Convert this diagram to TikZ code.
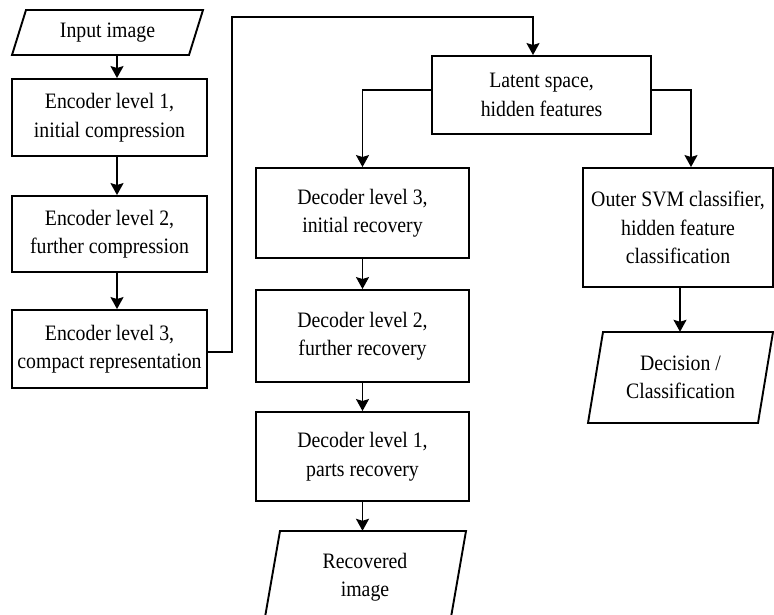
\documentclass[tikz,border=0pt]{standalone}
\usepackage{fontspec}
\setmainfont[FakeStretch=0.9]{Liberation Serif}
\usetikzlibrary{arrows.meta,calc}
\begin{document}
\begin{tikzpicture}[x=1pt,y=-1pt,
  every node/.style={font=\fontsize{22}{28.5}\selectfont, align=center, inner sep=0pt},
  box/.style={draw, line width=1.9pt, rectangle},
  para/.style={draw=none, rectangle},
  pline/.style={line width=1.9pt, line join=miter},
  arr/.style={line width=1.9pt, -{Stealth[length=12pt,width=13pt,inset=2pt]}}]
\useasboundingbox (0,0) rectangle (774,614);
% helper coordinates
\coordinate (xa) at (117,0);
\coordinate (xb) at (533,0);
\coordinate (xc) at (691,0);
\coordinate (xd) at (680,0);
\coordinate (ye) at (0,352);
\coordinate (yl) at (0,90);
\coordinate (j1) at (232,17);
% parallelogram shapes
\draw[pline] (26,10) -- (203,10) -- (189,55) -- (12,55) -- cycle;
\draw[pline] (280,531) -- (466,531) -- (450,623) -- (264,623) -- cycle;
\draw[pline] (603,332) -- (773,332) -- (758,423) -- (588,423) -- cycle;
% nodes
\node[para, minimum height=45pt, minimum width=160pt] (inp) at (107.5,32.5) {Input image};
\node[box, minimum width=195pt, minimum height=77pt] (enc1) at (109.5,117.5) {Encoder level 1,\\ initial compression};
\node[box, minimum width=195pt, minimum height=76pt] (enc2) at (109.5,234) {Encoder level 2,\\ further compression};
\node[box, minimum width=195pt, minimum height=78pt] (enc3) at (109.5,349) {Encoder level 3,\\ compact representation};
\node[box, minimum width=219pt, minimum height=78pt] (lat) at (541.5,95) {Latent space,\\ hidden features};
\node[box, minimum width=213pt, minimum height=90pt] (dec3) at (362.5,213) {Decoder level 3,\\ initial recovery};
\node[box, minimum width=213pt, minimum height=92pt] (dec2) at (362.5,336) {Decoder level 2,\\ further recovery};
\node[box, minimum width=213pt, minimum height=89pt] (dec1) at (362.5,456.5) {Decoder level 1,\\ parts recovery};
\node[para, minimum height=92pt, minimum width=170pt] (rec) at (365,577) {Recovered\\ image};
\node[box, minimum width=190pt, minimum height=119pt] (svm) at (678,227.5) {Outer SVM classifier,\\ hidden feature\\ classification};
\node[para, minimum height=91pt, minimum width=160pt] (dec) at (680.5,377.5) {Decision /\\ Classification};
% connectors
\draw[arr] (inp.south -| xa) -- (enc1.north -| xa);
\draw[arr] (enc1.south -| xa) -- (enc2.north -| xa);
\draw[arr] (enc2.south -| xa) -- (enc3.north -| xa);
\draw[arr] (enc3.east |- ye) -| (j1) -| (lat.north -| xb);
\draw[arr] (lat.west |- yl) -| (dec3.north);
\draw[arr] (lat.east |- yl) -| (svm.north -| xc);
\draw[arr] (dec3.south) -- (dec2.north);
\draw[arr] (dec2.south) -- (dec1.north);
\draw[arr] (dec1.south) -- (rec.north -| dec1.south);
\draw[arr] (svm.south -| xd) -- (dec.north -| xd);
\end{tikzpicture}
\end{document}
